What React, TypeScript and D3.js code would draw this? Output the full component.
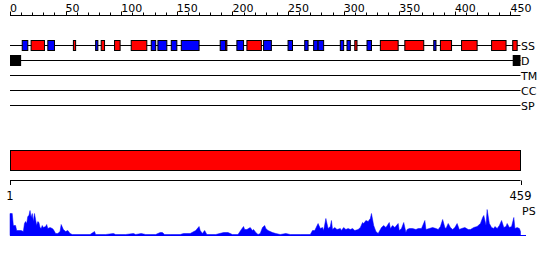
import React from "react";
import * as d3 from "d3";

const SEQ_LENGTH = 459;
const majorTicks = [0, 50, 100, 150, 200, 250, 300, 350, 400, 450];
const minorTicks = [10, 20, 30, 40, 60, 70, 80, 90, 110, 120, 130, 140, 160, 170, 180, 190, 210, 220, 230, 240, 260, 270, 280, 290, 310, 320, 330, 340, 360, 370, 380, 390, 410, 420, 430, 440];

const trackNames = ["SS", "D", "TM", "CC", "SP"];

// Secondary structure: H = helix (red), E = strand (blue)
const ssType = ["E", "H", "E", "H", "E", "H", "H", "H", "E", "E", "E", "E", "E", "H", "E", "H", "E", "E", "E", "E", "E", "E", "E", "H", "E", "H", "H", "E", "H", "H", "H", "H"];
const ssStart = [11, 19, 34, 57, 77, 82, 94, 109, 127, 133, 145, 154, 189, 194, 204, 213, 228, 250, 265, 273, 277, 297, 303, 310, 321, 333, 355, 381, 387, 406, 433, 452];
const ssEnd = [16, 31, 40, 59, 79, 85, 99, 123, 131, 141, 150, 170, 194, 195, 210, 226, 235, 254, 268, 277, 282, 300, 306, 312, 325, 349, 372, 383, 397, 420, 446, 456];

// Disorder segments
const disStart = [0, 452];
const disEnd = [10, 459];

// Domain bar
const domainStart = [0];
const domainEnd = [459];
const bottomTicks = [1, 459];

// PS profile (residue, score)
const psPos = [0, 1, 2, 3, 5, 6, 10, 12, 13, 14, 15, 16, 17, 18, 19, 20, 21, 22, 23, 24, 25, 26, 27, 28, 29, 30, 32, 33, 34, 36, 38, 39, 41, 43, 45, 46, 48, 50, 52, 54, 56, 63, 72, 76, 77, 86, 93, 95, 104, 111, 113, 118, 122, 126, 131, 135, 137, 139, 144, 153, 156, 162, 167, 170, 171, 173, 175, 177, 185, 192, 196, 200, 205, 208, 210, 211, 213, 216, 218, 219, 221, 223, 225, 227, 229, 230, 232, 234, 236, 239, 243, 248, 252, 261, 270, 272, 274, 277, 279, 281, 282, 284, 286, 288, 289, 290, 292, 294, 297, 298, 300, 302, 304, 306, 308, 310, 313, 315, 317, 318, 320, 322, 324, 325, 327, 329, 331, 333, 334, 336, 338, 341, 342, 344, 346, 349, 350, 352, 354, 356, 357, 359, 362, 365, 367, 370, 373, 374, 377, 380, 383, 385, 387, 389, 391, 392, 394, 396, 398, 400, 402, 404, 406, 409, 412, 414, 417, 420, 423, 425, 426, 428, 429, 431, 433, 435, 436, 438, 440, 442, 444, 446, 447, 449, 451, 453, 454, 456, 458, 459];
const psVal = [22, 22, 22, 10, 10, 5, 5, 4, 12, 14, 12, 19, 20, 25, 18, 22, 14, 22, 16, 10, 14, 13, 8, 7, 10, 8, 9, 11, 7, 8, 7, 6, 2, 2, 4, 11, 6, 4, 5, 2, 1, 1, 1, 4, 1, 1, 2, 1, 1, 2, 1, 2, 1, 1, 1, 3, 3, 1, 1, 1, 2, 2, 5, 9, 5, 2, 5, 1, 1, 3, 3, 1, 1, 6, 9, 6, 6, 8, 5, 6, 3, 1, 2, 8, 10, 7, 5, 4, 3, 2, 1, 2, 1, 1, 1, 5, 5, 12, 7, 8, 5, 17, 7, 9, 15, 6, 8, 6, 7, 5, 8, 6, 7, 6, 7, 5, 6, 8, 13, 12, 15, 14, 17, 22, 10, 4, 2, 6, 8, 10, 8, 13, 7, 10, 8, 12, 5, 7, 13, 3, 6, 7, 7, 6, 7, 7, 15, 6, 7, 8, 7, 6, 9, 16, 8, 7, 12, 8, 6, 8, 12, 6, 7, 8, 6, 6, 8, 9, 12, 18, 20, 10, 26, 12, 8, 7, 9, 7, 10, 15, 8, 9, 12, 8, 9, 18, 7, 8, 7, 4];
const psMax = 26;

const FONT = "DejaVu Sans, sans-serif";

export default function App() {
  const x = d3.scaleLinear().domain([0, SEQ_LENGTH]).range([10, 520.5]);
  const rowY = d3.scalePoint<string>().domain(trackNames).range([45.5, 105.5]);
  const psY = d3.scaleLinear().domain([0, psMax]).range([235.5, 209.5]);
  const colors: Record<string, string> = { H: "#ff0000", E: "#0000ff" };

  const psData = psPos.map((p, i) => [p, psVal[i]] as [number, number]);
  const area = d3
    .area<[number, number]>()
    .x((d) => x(d[0]))
    .y0(psY(0))
    .y1((d) => psY(d[1]));

  const axisY = 15.5;
  const xEnd = x(SEQ_LENGTH);

  return (
    <svg
      width={550}
      height={260}
      style={{ position: "absolute", left: 0, top: 0, background: "#fff" }}
      fontFamily={FONT}
    >
      <rect x={0} y={0} width={550} height={260} fill="#fff" />
      {/* top axis */}
      <line x1={x(0)} x2={xEnd} y1={axisY} y2={axisY} stroke="#000" />
      {minorTicks.map((t) => (
        <line key={"mn" + t} x1={Math.round(x(t)) + 0.5} x2={Math.round(x(t)) + 0.5} y1={axisY - 3} y2={axisY} stroke="#000" />
      ))}
      {majorTicks.map((t) => (
        <g key={"mj" + t}>
          <line x1={Math.round(x(t)) + 0.5} x2={Math.round(x(t)) + 0.5} y1={axisY - 4} y2={axisY} stroke="#000" />
          <text x={x(t)} y={12} fontSize={11} fill="#000">
            {t}
          </text>
        </g>
      ))}

      {/* track lines and labels */}
      {trackNames.map((n) => (
        <g key={n}>
          <line x1={x(0)} x2={xEnd} y1={rowY(n)} y2={rowY(n)} stroke="#000" />
          <text x={521} y={(rowY(n) as number) + 4.5} fontSize={11} fill="#000">
            {n}
          </text>
        </g>
      ))}

      {/* SS boxes */}
      {ssStart.map((s, i) => (
        <rect
          key={"ss" + i}
          x={x(s)}
          y={(rowY("SS") as number) - 5}
          width={x(ssEnd[i]) - x(s)}
          height={10}
          fill={colors[ssType[i]]}
          stroke="#000"
          strokeWidth={1}
        />
      ))}

      {/* Disorder boxes */}
      {disStart.map((s, i) => (
        <rect
          key={"d" + i}
          x={x(s)}
          y={(rowY("D") as number) - 5.5}
          width={x(disEnd[i]) - x(s)}
          height={11}
          fill="#000"
        />
      ))}

      {/* Domain bar */}
      {domainStart.map((s, i) => (
        <rect
          key={"dom" + i}
          x={x(s) + 0.5}
          y={150.5}
          width={x(domainEnd[i]) - x(s) - 0.5}
          height={20}
          fill="#ff0000"
          stroke="#000"
          strokeWidth={1}
        />
      ))}

      {/* bottom axis */}
      <line x1={x(0)} x2={xEnd} y1={180.5} y2={180.5} stroke="#000" />
      {bottomTicks.map((t, i) => {
        const px = i === 0 ? x(0) : xEnd;
        return (
          <g key={"bt" + t}>
            <line x1={Math.round(px) + 0.5} x2={Math.round(px) + 0.5} y1={180.5} y2={185} stroke="#000" />
            <text x={px} y={200} fontSize={11.5} textAnchor="middle" fill="#000">
              {t}
            </text>
          </g>
        );
      })}

      {/* PS profile */}
      <path d={area(psData) || ""} fill="#0000ff" stroke="#0000ff" strokeWidth={0.5} />
      <line x1={x(0)} x2={526} y1={235.5} y2={235.5} stroke="#0000ff" />
      <text x={522} y={215} fontSize={11} fill="#000">
        PS
      </text>
    </svg>
  );
}
